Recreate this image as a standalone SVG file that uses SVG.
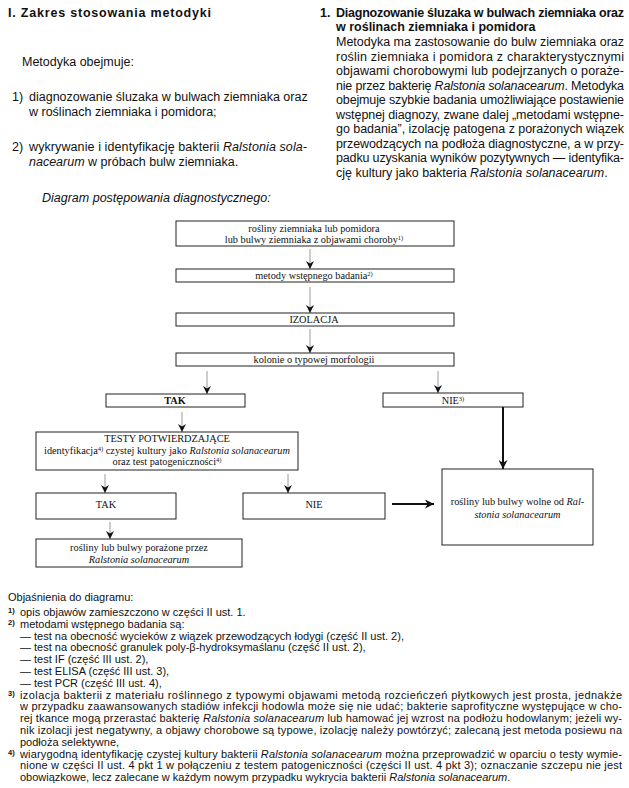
<svg xmlns="http://www.w3.org/2000/svg" width="629" height="788" viewBox="0 0 629 788">
<style>
.s{font-family:"Liberation Sans",Arial,sans-serif;font-size:12.5px;fill:#111}
.b{font-weight:bold}
.i{font-style:italic}
.f{font-family:"Liberation Sans",Arial,sans-serif;font-size:11px;fill:#111}
.fm{font-family:"Liberation Sans",Arial,sans-serif;font-size:7.5px;font-weight:bold;fill:#111}
.d{font-family:"Liberation Serif","Times New Roman",serif;font-size:10.3px;fill:#111;text-anchor:middle}
.sup{font-size:6.5px}
.box{fill:#fff;stroke:#222;stroke-width:1}
.thin{stroke:#9a9a9a;stroke-width:1;fill:none}
.thick{stroke:#111;stroke-width:2;fill:none}
</style>
<defs>
<marker id="ah" viewBox="0 0 10 10" refX="10" refY="5" markerUnits="userSpaceOnUse" markerWidth="9" markerHeight="8" orient="auto">
<path d="M0,0 L10,5 L0,10 L3,5 z" fill="#111"/>
</marker>
<marker id="ahk" viewBox="0 0 10 10" refX="10" refY="5" markerUnits="userSpaceOnUse" markerWidth="11" markerHeight="9" orient="auto">
<path d="M0,0 L10,5 L0,10 L3,5 z" fill="#111"/>
</marker>
</defs>
<rect width="629" height="788" fill="#fff"/>

<!-- left column -->
<text class="s b" x="8" y="17" letter-spacing="0.8">I. Zakres stosowania metodyki</text>
<text class="s" x="22" y="66">Metodyka obejmuje:</text>
<text class="s" x="12" y="101">1)</text>
<text class="s" x="29" y="101">diagnozowanie śluzaka w bulwach ziemniaka oraz</text>
<text class="s" x="29" y="115.5">w roślinach ziemniaka i pomidora;</text>
<text class="s" x="12" y="151">2)</text>
<text class="s" x="29" y="151" textLength="278" lengthAdjust="spacing">wykrywanie i identyfikację bakterii <tspan class="i">Ralstonia sola-</tspan></text>
<text class="s" x="29" y="165.5"><tspan class="i">nacearum</tspan> w próbach bulw ziemniaka.</text>
<text class="s i" x="42" y="202">Diagram postępowania diagnostycznego:</text>

<!-- right column -->
<text class="s b" x="320" y="17">1.</text>
<text class="s b" x="336" y="17" font-size="12px" textLength="288" lengthAdjust="spacing">Diagnozowanie śluzaka w bulwach ziemniaka oraz</text>
<text class="s b" x="336" y="31" font-size="12px">w roślinach ziemniaka i pomidora</text>
<text class="s" x="336" y="46" textLength="288" lengthAdjust="spacing">Metodyka ma zastosowanie do bulw ziemniaka oraz</text>
<text class="s" x="336" y="60.5" textLength="288" lengthAdjust="spacing">roślin ziemniaka i pomidora z charakterystycznymi</text>
<text class="s" x="336" y="75" textLength="288" lengthAdjust="spacing">objawami chorobowymi lub podejrzanych o poraże-</text>
<text class="s" x="336" y="89.5" textLength="288" lengthAdjust="spacing">nie przez bakterię <tspan class="i">Ralstonia solanacearum</tspan>. Metodyka</text>
<text class="s" x="336" y="104" textLength="288" lengthAdjust="spacing">obejmuje szybkie badania umożliwiające postawienie</text>
<text class="s" x="336" y="118.5" textLength="288" lengthAdjust="spacing">wstępnej diagnozy, zwane dalej „metodami wstępne-</text>
<text class="s" x="336" y="133" textLength="288" lengthAdjust="spacing">go badania”, izolację patogena z porażonych wiązek</text>
<text class="s" x="336" y="147.5" textLength="288" lengthAdjust="spacing">przewodzących na podłoża diagnostyczne, a w przy-</text>
<text class="s" x="336" y="162" textLength="288" lengthAdjust="spacing">padku uzyskania wyników pozytywnych — identyfika-</text>
<text class="s" x="336" y="176.5">cję kultury jako bakteria <tspan class="i">Ralstonia solanacearum</tspan>.</text>

<!-- connectors -->
<g id="connectors">
<line class="thin" x1="310" y1="249" x2="310" y2="269" marker-end="url(#ah)"/>
<line class="thin" x1="310" y1="287" x2="310" y2="313" marker-end="url(#ah)"/>
<line class="thin" x1="310" y1="329" x2="310" y2="353" marker-end="url(#ah)"/>
<line class="thin" x1="207" y1="371" x2="207" y2="394" marker-end="url(#ah)"/>
<line class="thin" x1="438" y1="371" x2="438" y2="393" marker-end="url(#ah)"/>
<line class="thin" x1="182" y1="412" x2="182" y2="432" marker-end="url(#ah)"/>
<line class="thin" x1="105" y1="474" x2="105" y2="493" marker-end="url(#ah)"/>
<line class="thin" x1="288" y1="474" x2="288" y2="493" marker-end="url(#ah)"/>
<line class="thin" x1="110" y1="522" x2="110" y2="539" marker-end="url(#ah)"/>
<line class="thick" x1="503" y1="407" x2="503" y2="469" marker-end="url(#ahk)"/>
<line class="thick" x1="392" y1="504" x2="434" y2="504" marker-end="url(#ahk)"/>
</g>

<g id="n-start">
<rect class="box" x="176" y="221" width="278" height="25"/>
<text class="d" x="314" y="232">rośliny ziemniaka lub pomidora</text>
<text class="d" x="314" y="243">lub bulwy ziemniaka z objawami choroby<tspan class="sup" dy="-3">1)</tspan></text>
</g>
<g id="n-metody">
<rect class="box" x="176" y="269" width="278" height="13"/>
<text class="d" x="314" y="279">metody wstępnego badania<tspan class="sup" dy="-3">2)</tspan></text>
</g>
<g id="n-izolacja">
<rect class="box" x="176" y="313" width="278" height="13"/>
<text class="d" x="314" y="323">IZOLACJA</text>
</g>
<g id="n-kolonie">
<rect class="box" x="176" y="353" width="278" height="13"/>
<text class="d" x="314" y="363">kolonie o typowej morfologii</text>
</g>
<g id="n-tak1">
<rect class="box" x="106" y="394" width="139" height="13"/>
<text class="d" x="175" y="404" font-weight="bold">TAK</text>
</g>
<g id="n-nie1">
<rect class="box" x="383" y="393" width="140" height="14"/>
<text class="d" x="453" y="404">NIE<tspan class="sup" dy="-3">3)</tspan></text>
</g>
<g id="n-testy">
<rect class="box" x="36" y="432" width="262" height="38"/>
<text class="d" x="167" y="442">TESTY POTWIERDZAJĄCE</text>
<text class="d" x="167" y="453.5">identyfikacja<tspan class="sup" dy="-3">4)</tspan><tspan dy="3"> czystej kultury jako </tspan><tspan class="i">Ralstonia solanacearum</tspan></text>
<text class="d" x="167" y="465">oraz test patogeniczności<tspan class="sup" dy="-3">4)</tspan></text>
</g>
<g id="n-tak2">
<rect class="box" x="36" y="493" width="140" height="26"/>
<text class="d" x="106" y="508">TAK</text>
</g>
<g id="n-nie2">
<rect class="box" x="243" y="493" width="142" height="26"/>
<text class="d" x="314" y="508">NIE</text>
</g>
<g id="n-porazone">
<rect class="box" x="36" y="539" width="206" height="28"/>
<text class="d" x="139" y="550.5">rośliny lub bulwy porażone przez</text>
<text class="d i" x="139" y="562.5">Ralstonia solanacearum</text>
</g>
<g id="n-wolne">
<rect class="box" x="442" y="469" width="151" height="76"/>
<text class="d" x="517.5" y="505">rośliny lub bulwy wolne od <tspan class="i">Ral-</tspan></text>
<text class="d i" x="517.5" y="517.5">stonia solanacearum</text>
</g>

<!-- footnotes -->
<text class="f" x="8" y="601">Objaśnienia do diagramu:</text>
<text class="fm" x="8" y="613">1)</text>
<text class="f" x="20" y="616">opis objawów zamieszczono w części II ust. 1.</text>
<text class="fm" x="8" y="624.8">2)</text>
<text class="f" x="20" y="627.8">metodami wstępnego badania są:</text>
<text class="f" x="20" y="639.6">— test na obecność wycieków z wiązek przewodzących łodygi (część II ust. 2),</text>
<text class="f" x="20" y="651.4">— test na obecność granulek poly-β-hydroksymaślanu (część II ust. 2),</text>
<text class="f" x="20" y="663.2">— test IF (część III ust. 2),</text>
<text class="f" x="20" y="675">— test ELISA (część III ust. 3),</text>
<text class="f" x="20" y="686.8">— test PCR (część III ust. 4),</text>
<text class="fm" x="8" y="695.6">3)</text>
<text class="f" x="20" y="698.6" textLength="602" lengthAdjust="spacing">izolacja bakterii z materiału roślinnego z typowymi objawami metodą rozcieńczeń płytkowych jest prosta, jednakże</text>
<text class="f" x="20" y="710.4" textLength="602" lengthAdjust="spacing">w przypadku zaawansowanych stadiów infekcji hodowla może się nie udać; bakterie saprofityczne występujące w cho-</text>
<text class="f" x="20" y="722.2" textLength="602" lengthAdjust="spacing">rej tkance mogą przerastać bakterię <tspan class="i">Ralstonia solanacearum</tspan> lub hamować jej wzrost na podłożu hodowlanym; jeżeli wy-</text>
<text class="f" x="20" y="734" textLength="602" lengthAdjust="spacing">nik izolacji jest negatywny, a objawy chorobowe są typowe, izolację należy powtórzyć; zalecaną jest metoda posiewu na</text>
<text class="f" x="20" y="745.8">podłoża selektywne,</text>
<text class="fm" x="8" y="754.6">4)</text>
<text class="f" x="20" y="757.6" textLength="602" lengthAdjust="spacing">wiarygodną identyfikację czystej kultury bakterii <tspan class="i">Ralstonia solanacearum</tspan> można przeprowadzić w oparciu o testy wymie-</text>
<text class="f" x="20" y="769.4" textLength="602" lengthAdjust="spacing">nione w części II ust. 4 pkt 1 w połączeniu z testem patogeniczności (części II ust. 4 pkt 3); oznaczanie szczepu nie jest</text>
<text class="f" x="20" y="781.2">obowiązkowe, lecz zalecane w każdym nowym przypadku wykrycia bakterii <tspan class="i">Ralstonia solanacearum</tspan>.</text>
</svg>
